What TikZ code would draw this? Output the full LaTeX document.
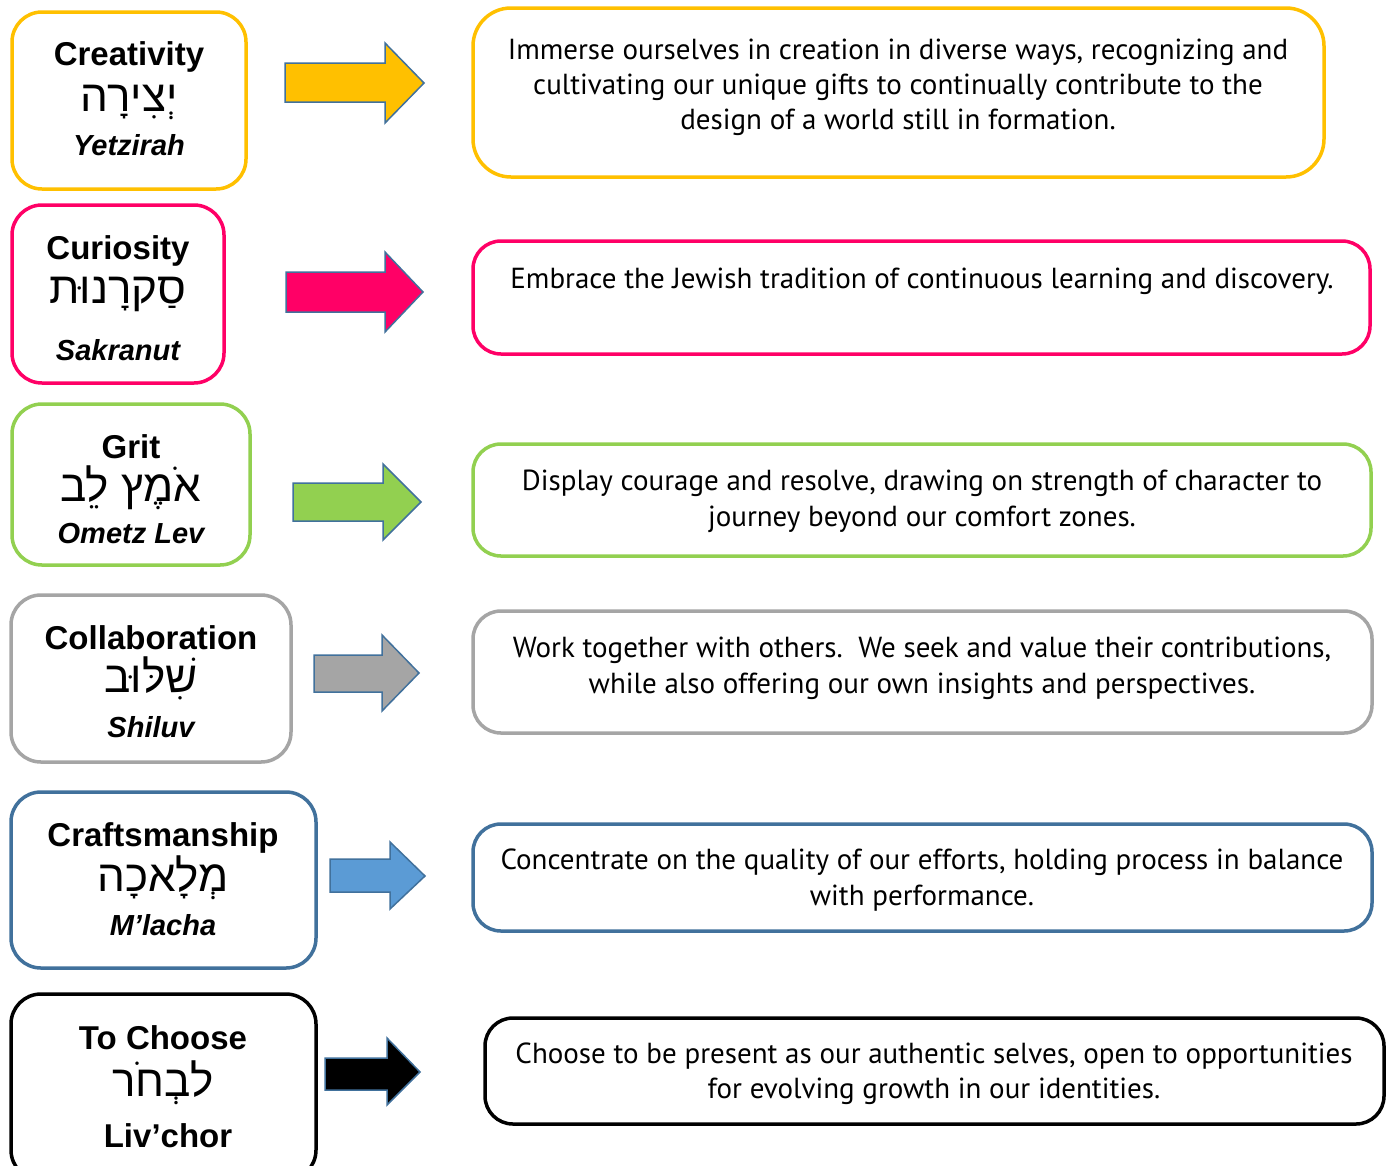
\documentclass[tikz,border=0pt]{standalone}
\usepackage{fontspec}
\setmainfont{Liberation Sans}
\newfontfamily\hebfont[Script=Hebrew]{Liberation Sans}
\newfontfamily\descfont{PT Sans}
\TeXXeTstate=1
\definecolor{cyellow}{HTML}{FFC000}
\definecolor{cpink}{HTML}{FF0066}
\definecolor{cgreen}{HTML}{92D050}
\definecolor{cgray}{HTML}{A5A5A5}
\definecolor{cblue}{HTML}{41719C}
\definecolor{cbluefill}{HTML}{5B9BD5}
\definecolor{arrowline}{HTML}{41719C}
\tikzset{
  lbox/.style={draw, line width=3.5pt, rounded corners=30pt, inner sep=0pt, fill=white},
  rbox/.style={draw, line width=3.5pt, rounded corners=28pt, inner sep=0pt, fill=white},
  title/.style={anchor=base, inner sep=0pt, text height=24pt, text depth=7pt, font=\fontsize{33}{33}\selectfont\bfseries},
  heb/.style={anchor=base, inner sep=0pt, text height=30pt, text depth=11pt, font=\fontsize{44}{44}\selectfont\hebfont},
  translit/.style={anchor=base, inner sep=0pt, text height=21pt, text depth=0pt, font=\fontsize{29}{29}\selectfont\bfseries\itshape},
  desc/.style={anchor=base, inner sep=0pt, font=\fontsize{29}{29}\selectfont\descfont},
  blockarrow/.style={draw=arrowline, line width=1.5pt, line join=miter}
}
\begin{document}
\begin{tikzpicture}[x=1pt,y=-1pt]
\useasboundingbox (0,0) rectangle (1388,1165);
\fill[white] (0,0) rectangle (1388,1165);

% ---------- left boxes ----------
\node[lbox, draw=cyellow, minimum width=234pt, minimum height=177pt] (l1) at (129,100.5) {};
\node[lbox, draw=cpink,   minimum width=212pt, minimum height=178pt] (l2) at (118,294) {};
\node[lbox, draw=cgreen,  minimum width=238pt, minimum height=161pt] (l3) at (131,484.5) {};
\node[lbox, draw=cgray,   minimum width=280pt, minimum height=167pt] (l4) at (151,678.5) {};
\node[lbox, draw=cblue,   minimum width=305pt, minimum height=176pt] (l5) at (163.5,880) {};
\node[lbox, draw=black,   minimum width=305pt, minimum height=186pt] (l6) at (163.5,1087) {};

% ---------- left texts ----------
\node[title] (t1) at (129,65) {Creativity};
\node[heb] (h1) at (129,111) {\beginR יְצִירָה\endR};
\node[translit] (s1) at (129,155) {Yetzirah};

\node[title] (t2) at (118,259) {Curiosity};
\node[heb] (h2) at (118,303) {\beginR סַקרָנוּת\endR};
\node[translit] (s2) at (118,360) {Sakranut};

\node[title] (t3) at (131,458) {Grit};
\node[heb] (h3) at (131,501) {\beginR אֹמֶץ לֵב\endR};
\node[translit] (s3) at (131,543) {Ometz Lev};

\node[title] (t4) at (151,649) {Collaboration};
\node[heb] (h4) at (151,692) {\beginR שִׁלּוּב\endR};
\node[translit] (s4) at (151,737) {Shiluv};

\node[title] (t5) at (163,846) {Craftsmanship};
\node[heb] (h5) at (163,891) {\beginR מְלָאכָה\endR};
\node[translit] (s5) at (163,935) {M’lacha};

\node[title] (t6) at (163,1049) {To Choose};
\node[heb] (h6) at (163,1096) {\beginR לבְחֹר\endR};
\node[title] (s6) at (168,1147) {Liv’chor};

% ---------- block arrows ----------
\filldraw[blockarrow, fill=cyellow] (285,63) -- (385,63) -- (385,43) -- (424,83) -- (385,123) -- (385,102) -- (285,102) -- cycle;
\filldraw[blockarrow, fill=cpink] (286,272) -- (385,272) -- (385,252) -- (423,292) -- (385,332) -- (385,312) -- (286,312) -- cycle;
\filldraw[blockarrow, fill=cgreen] (293,483) -- (383,483) -- (383,464) -- (421,502) -- (383,540) -- (383,521) -- (293,521) -- cycle;
\filldraw[blockarrow, fill=cgray] (314,655) -- (382,655) -- (382,635) -- (419,673) -- (382,711) -- (382,692) -- (314,692) -- cycle;
\filldraw[blockarrow, fill=cbluefill] (330,859) -- (390,859) -- (390,842) -- (425,876) -- (390,909) -- (390,892) -- (330,892) -- cycle;
\filldraw[blockarrow, fill=black] (325,1058) -- (387,1058) -- (387,1038) -- (420,1072) -- (387,1105) -- (387,1090) -- (325,1090) -- cycle;

% ---------- right boxes ----------
\node[rbox, draw=cyellow, rounded corners=38pt, minimum width=851pt, minimum height=169pt] (r1) at (898.5,92.5) {};
\node[rbox, draw=cpink,  minimum width=897pt, minimum height=113pt] (r2) at (921.5,297.5) {};
\node[rbox, draw=cgreen, minimum width=898pt, minimum height=112pt] (r3) at (922,500) {};
\node[rbox, draw=cgray,  minimum width=899pt, minimum height=122pt] (r4) at (922.5,672) {};
\node[rbox, draw=cblue,  minimum width=899pt, minimum height=107pt] (r5) at (922.5,877.5) {};
\node[rbox, draw=black,  minimum width=899pt, minimum height=106pt] (r6) at (934.5,1071) {};

% ---------- right texts ----------
\node[desc] (d1a) at (898,59) {Immerse ourselves in creation in diverse ways, recognizing and};
\node[desc] (d1b) at (898,94) {cultivating our unique gifts to continually contribute to the};
\node[desc] (d1c) at (898,129) {design of a world still in formation.};

\node[desc] (d2a) at (922,288) {Embrace the Jewish tradition of continuous learning and discovery.};

\node[desc] (d3a) at (922,490) {Display courage and resolve, drawing on strength of character to};
\node[desc] (d3b) at (922,526) {journey beyond our comfort zones.};

\node[desc] (d4a) at (922,657) {Work together with others.\ \ We seek and value their contributions,};
\node[desc] (d4b) at (922,693) {while also offering our own insights and perspectives.};

\node[desc] (d5a) at (922,869) {Concentrate on the quality of our efforts, holding process in balance};
\node[desc] (d5b) at (922,905) {with performance.};

\node[desc] (d6a) at (934,1063) {Choose to be present as our authentic selves, open to opportunities};
\node[desc] (d6b) at (934,1098) {for evolving growth in our identities.};
\end{tikzpicture}
\end{document}
